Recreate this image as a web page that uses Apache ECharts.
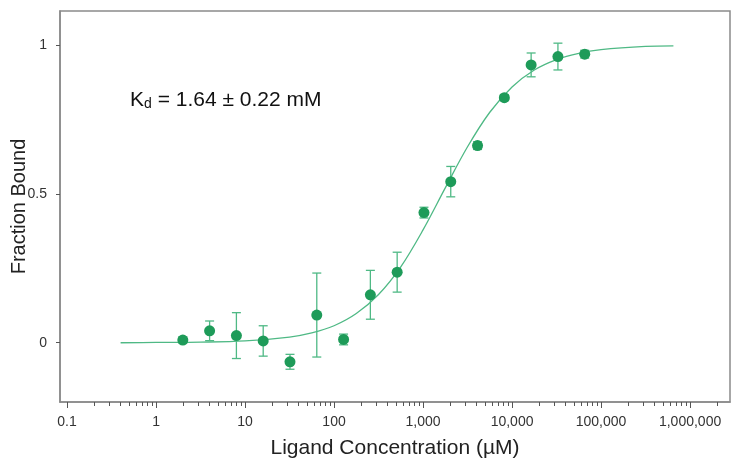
<!DOCTYPE html>
<html>
<head>
<meta charset="utf-8">
<script src="https://cdn.jsdelivr.net/npm/echarts@6/dist/echarts.min.js"></script>
<style>html,body{margin:0;padding:0;background:#fff}#c{width:738px;height:469px}</style>
</head>
<body>
<div id="c"></div>
<script>
// Ligand concentrations (µM)
var concentrations = [2, 4, 8, 16, 32, 64, 128, 256, 512, 1024, 2048, 4096, 8192, 16384, 32768, 65536];
// Fraction bound (mean)
var fractionBound = [0.009, 0.040, 0.024, 0.006, -0.064, 0.093, 0.011, 0.161, 0.237, 0.437, 0.541, 0.662, 0.823, 0.933, 0.961, 0.969];
// Error (± half-length of bar)
var errors = [0.010, 0.033, 0.077, 0.051, 0.025, 0.141, 0.018, 0.082, 0.067, 0.018, 0.051, 0.013, 0.010, 0.040, 0.045, 0.013];
// Fitted curve
var curveX = [0.4, 1, 3.16, 10, 31.6, 56.2, 100, 177.8, 316.2, 562.3, 1000, 1778, 3162, 5623, 10000, 17783, 31623, 56234, 100000, 316228, 650000];
var curveY = [0.000, 0.001, 0.002, 0.006, 0.019, 0.033, 0.057, 0.098, 0.162, 0.255, 0.379, 0.520, 0.658, 0.774, 0.859, 0.916, 0.951, 0.972, 0.984, 0.995, 0.997];
// Axis tick labels
var xTickValues = [0.1, 1, 10, 100, 1000, 10000, 100000, 1000000];
var xMinorTicks = [];
for (var d = -1; d <= 6; d++) {
  for (var m = 2; m <= 9; m++) {
    var v = m * Math.pow(10, d);
    if (v < 2.8e6) xMinorTicks.push(Number(v.toPrecision(3)));
  }
}
var yTickValues = [0, 0.5, 1];

var GREEN = '#1e9b59';
var LINE_GREEN = '#4fb985';

var chart = echarts.init(document.getElementById('c'));
var pts = concentrations.map(function (c, i) { return [c, fractionBound[i]]; });
var errData = concentrations.map(function (c, i) { return [c, fractionBound[i] - errors[i], fractionBound[i] + errors[i]]; });
var curve = curveX.map(function (c, i) { return [c, curveY[i]]; });

function fmt(v) {
  var n = Number(Number(v).toPrecision(6));
  return n.toLocaleString('en-US', {maximumFractionDigits: 3});
}

chart.setOption({
  animation: false,
  grid: {left: 60, right: 8, top: 11, bottom: 67, show: true, borderColor: '#8a8a8a', borderWidth: 1.5, backgroundColor: '#fff', containLabel: false, outerBoundsMode: 'none'},
  xAxis: [{
    type: 'log', logBase: 10, min: 0.0834, max: 2.81e6,
    name: 'Ligand Concentration (µM)', nameLocation: 'middle', nameGap: 36, nameMoveOverlap: false,
    nameTextStyle: {fontSize: 21, color: '#222', fontFamily: 'Liberation Sans'},
    axisLine: {show: true, onZero: false, lineStyle: {color: '#8a8a8a', width: 1.5}},
    axisTick: {show: true, customValues: xTickValues, length: 6, inside: false, lineStyle: {color: '#555', width: 1}},
    axisLabel: {customValues: xTickValues, formatter: fmt, margin: 13, fontSize: 14, color: '#333', fontFamily: 'Liberation Sans'},
    splitLine: {show: false}, minorTick: {show: false}
  }, {
    type: 'log', logBase: 10, min: 0.0834, max: 2.81e6, position: 'bottom',
    axisLine: {show: false, onZero: false},
    axisTick: {show: true, customValues: xMinorTicks, length: 4, lineStyle: {color: '#555', width: 1}},
    axisLabel: {show: false}, splitLine: {show: false}
  }],
  yAxis: {
    type: 'value', min: -0.199, max: 1.114,
    name: 'Fraction Bound', nameLocation: 'middle', nameGap: 31, nameMoveOverlap: false,
    nameTextStyle: {fontSize: 20, color: '#222', fontFamily: 'Liberation Sans'},
    axisLine: {show: true, onZero: false, lineStyle: {color: '#8a8a8a', width: 1.5}},
    axisTick: {show: true, customValues: yTickValues, length: 4, lineStyle: {color: '#555'}},
    axisLabel: {customValues: yTickValues, margin: 13, fontSize: 14, color: '#333', fontFamily: 'Liberation Sans'},
    splitLine: {show: false}
  },
  graphic: [{
    type: 'text', left: 130, top: 90,
    style: {
      text: '{k|K}{d|d}{k| = 1.64 ± 0.22 mM}',
      rich: {
        k: {fontSize: 21, fill: '#111', fontFamily: 'Liberation Sans', verticalAlign: 'bottom', lineHeight: 25},
        d: {fontSize: 14, fill: '#111', fontFamily: 'Liberation Sans', verticalAlign: 'bottom', lineHeight: 21}
      }
    }
  }],
  series: [{
    type: 'line', data: curve, smooth: 0.35, showSymbol: false, symbol: 'none',
    lineStyle: {color: LINE_GREEN, width: 1.3}, z: 2
  }, {
    type: 'custom', data: errData, z: 3,
    renderItem: function (params, api) {
      var x = api.value(0);
      var lo = api.coord([x, api.value(1)]);
      var hi = api.coord([x, api.value(2)]);
      var hw = 4.5;
      var st = {stroke: LINE_GREEN, lineWidth: 1.3, fill: null};
      return {type: 'group', children: [
        {type: 'line', shape: {x1: lo[0], y1: lo[1], x2: hi[0], y2: hi[1]}, style: st},
        {type: 'line', shape: {x1: lo[0] - hw, y1: lo[1], x2: lo[0] + hw, y2: lo[1]}, style: st},
        {type: 'line', shape: {x1: hi[0] - hw, y1: hi[1], x2: hi[0] + hw, y2: hi[1]}, style: st}
      ]};
    }
  }, {
    type: 'scatter', data: pts, symbol: 'circle', symbolSize: 11,
    itemStyle: {color: GREEN, opacity: 1}, z: 4
  }]
});
</script>
</body>
</html>
